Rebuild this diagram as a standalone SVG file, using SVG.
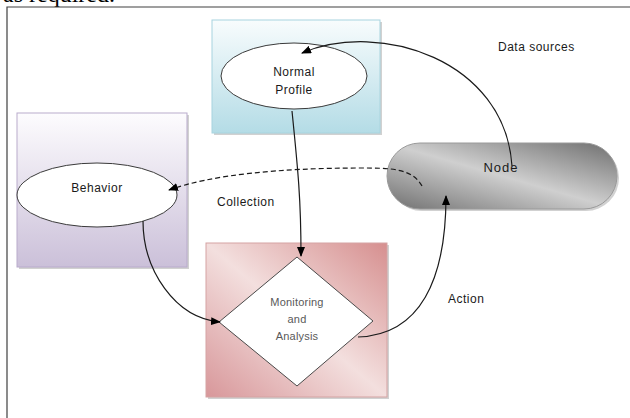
<svg xmlns="http://www.w3.org/2000/svg" width="630" height="418" viewBox="0 0 630 418">
<style>
.lbl{font-family:"Liberation Sans",Arial,sans-serif;font-size:12px;letter-spacing:0.5px;fill:#1a1a1a}
.dl{font-family:"Liberation Sans",Arial,sans-serif;font-size:11px;letter-spacing:0.2px;fill:#595959}
.ell{fill:#ffffff;stroke:#3a3a3a;stroke-width:1}
.shadow{fill:#8c8c8c;opacity:0.4}
.con{fill:none;stroke:#1a1a1a;stroke-width:1.2}
</style>
<defs>
<linearGradient id="gBlue" x1="0" y1="0" x2="0" y2="1">
<stop offset="0" stop-color="#f8fcfd"/><stop offset="1" stop-color="#b4dce6"/>
</linearGradient>
<linearGradient id="gPurple" x1="0" y1="0" x2="0" y2="1">
<stop offset="0" stop-color="#fdfcfe"/><stop offset="1" stop-color="#cbc0d9"/>
</linearGradient>
<linearGradient id="gPink" x1="0" y1="1" x2="1" y2="0">
<stop offset="0" stop-color="#d8979a"/><stop offset="0.5" stop-color="#f3dfde"/><stop offset="1" stop-color="#d68f8f"/>
</linearGradient>
<linearGradient id="gGray" x1="0" y1="1" x2="1" y2="0">
<stop offset="0" stop-color="#707070"/><stop offset="0.5" stop-color="#cfcfcf"/><stop offset="1" stop-color="#6e6e6e"/>
</linearGradient>
<marker id="arr" markerWidth="10" markerHeight="8" refX="9" refY="4" orient="auto" markerUnits="userSpaceOnUse">
<path d="M0,0 L10,4 L0,8 Z" fill="#000"/>
</marker>
</defs>
<rect x="0" y="0" width="630" height="418" fill="#ffffff"/>
<text x="3" y="2" font-family="'Liberation Serif','Times New Roman',serif" font-size="24" fill="#000">as required.</text>
<g id="frame" fill="none" stroke="#404040" stroke-width="1.2">
<path d="M7,418 L7,7 L630,7"/>
</g>
<g id="normal-profile">
<rect class="shadow" x="214" y="22" width="168" height="113"/>
<rect x="212" y="20" width="168" height="113" fill="url(#gBlue)" stroke="#a8d4df" stroke-width="1"/>
<ellipse class="ell" cx="294" cy="76" rx="73" ry="33"/>
<text class="lbl" x="294" y="76" text-anchor="middle">Normal</text>
<text class="lbl" x="294" y="94" text-anchor="middle">Profile</text>
</g>
<g id="behavior">
<rect class="shadow" x="19" y="115" width="170" height="154"/>
<rect x="17" y="113" width="170" height="154" fill="url(#gPurple)" stroke="#b9abcc" stroke-width="1"/>
<ellipse class="ell" cx="97" cy="195" rx="80" ry="32"/>
<text class="lbl" x="97" y="192" text-anchor="middle">Behavior</text>
</g>
<g id="monitoring">
<rect class="shadow" x="208" y="245" width="181" height="154"/>
<rect x="206" y="243" width="181" height="154" fill="url(#gPink)" stroke="#d5a3a3" stroke-width="1"/>
<path d="M297,257 L373,321 L297,386 L219,322 Z" fill="#ffffff" stroke="#4a4a4a" stroke-width="1"/>
<text class="dl" x="297" y="306" text-anchor="middle">Monitoring</text>
<text class="dl" x="297" y="323" text-anchor="middle">and</text>
<text class="dl" x="297" y="340" text-anchor="middle">Analysis</text>
</g>
<g id="node">
<rect class="shadow" x="389" y="145" width="230" height="66" rx="33" ry="33"/>
<rect x="387" y="143" width="230" height="66" rx="33" ry="33" fill="url(#gGray)" stroke="#9a9a9a" stroke-width="1"/>
<text class="lbl" x="501" y="172" text-anchor="middle" style="letter-spacing:1px;font-size:13px">Node</text>
</g>
<g id="connectors">
<path class="con" d="M512,166 C505,60 380,20 302,53" marker-end="url(#arr)"/>
<path class="con" d="M292,111 C298,170 301,200 301,256" marker-end="url(#arr)"/>
<path class="con" d="M143,221 C143,270 175,318 220,322" marker-end="url(#arr)"/>
<path class="con" d="M422,186 C412,168 390,168 360,168 C280,168 210,175 169,190" stroke-dasharray="5,3" marker-end="url(#arr)"/>
<path class="con" d="M358,337 C420,335 446,280 446,196" marker-end="url(#arr)"/>
</g>
<g id="labels">
<text class="lbl" x="498" y="51">Data sources</text>
<text class="lbl" x="217" y="206">Collection</text>
<text class="lbl" x="448" y="303">Action</text>
</g>
</svg>
